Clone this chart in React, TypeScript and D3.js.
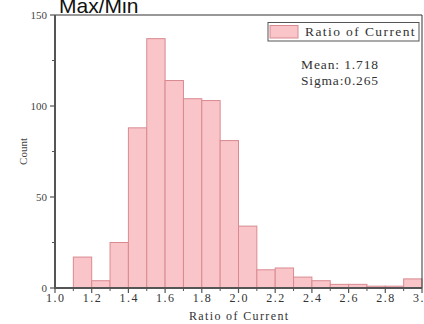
import React from "react";
import * as d3 from "d3";

const binStarts = [1.0, 1.1, 1.2, 1.3, 1.4, 1.5, 1.6, 1.7, 1.8, 1.9, 2.0, 2.1, 2.2, 2.3, 2.4, 2.5, 2.6, 2.7, 2.8, 2.9];
const counts = [0, 17, 4, 25, 88, 137, 114, 104, 103, 81, 34, 10, 11, 6, 4, 2, 2, 1, 1, 5];
const binWidth = 0.1;
const xTicks = [1.0, 1.2, 1.4, 1.6, 1.8, 2.0, 2.2, 2.4, 2.6, 2.8, 3.0];
const xMinorTicks = [1.1, 1.3, 1.5, 1.7, 1.9, 2.1, 2.3, 2.5, 2.7, 2.9];
const yTicks = [0, 50, 100, 150];
const yMinorTicks = [25, 75, 125];
const stats = ["Mean: 1.718", "Sigma:0.265"];

const W = 424;
const H = 324;
const left = 55;
const right = 422;
const top = 15;
const bottom = 288;

const fill = "#f9c5c8";
const stroke = "#d98a91";
const axisColor = "#555";
const serif = "'Liberation Serif', serif";

// fixed-pitch text set in a serif face, each glyph given an equal advance
const pitch = (s: string, w: number) => s.length * w;

export default function App() {
  const x = d3.scaleLinear().domain([1.0, 3.0]).range([left, right]);
  const y = d3.scaleLinear().domain([0, 150]).range([bottom, top]);

  return (
    <svg
      width={W}
      height={H}
      style={{ position: "absolute", left: 0, top: 0, background: "#fff" }}
    >
      {/* histogram bars */}
      {binStarts.map((b, i) =>
        counts[i] > 0 ? (
          <rect
            key={i}
            x={x(b)}
            y={y(counts[i])}
            width={x(b + binWidth) - x(b)}
            height={y(0) - y(counts[i])}
            fill={fill}
            stroke={stroke}
            strokeWidth={1}
          />
        ) : null
      )}

      {/* frame */}
      <line x1={left} x2={right} y1={top} y2={top} stroke="#333" strokeWidth={1} />
      <line x1={right} x2={right} y1={top} y2={bottom} stroke="#333" strokeWidth={1} />
      <line x1={left} x2={left} y1={top} y2={bottom + 1} stroke={axisColor} strokeWidth={2} />
      <line x1={left - 1} x2={right} y1={bottom} y2={bottom} stroke={axisColor} strokeWidth={2} />

      {/* x ticks */}
      {xTicks.map((t) => (
        <g key={t}>
          <line x1={x(t)} x2={x(t)} y1={bottom} y2={bottom + 5} stroke={axisColor} strokeWidth={1.2} />
          <text
            x={x(t) - 9}
            y={bottom + 14}
            fontFamily={serif}
            fontSize={12}
            textLength={pitch(t.toFixed(1), 6)}
            lengthAdjust="spacing"
            fill="#333"
          >
            {t.toFixed(1)}
          </text>
        </g>
      ))}
      {xMinorTicks.map((t) => (
        <line key={t} x1={x(t)} x2={x(t)} y1={bottom} y2={bottom + 3} stroke={axisColor} strokeWidth={1} />
      ))}

      {/* y ticks */}
      {yTicks.map((t) => (
        <g key={t}>
          <line x1={left - 5} x2={left} y1={y(t)} y2={y(t)} stroke={axisColor} strokeWidth={1.2} />
          <text
            x={left - 8}
            y={y(t) + 4}
            textAnchor="end"
            fontFamily={serif}
            fontSize={11}
            fill="#444"
          >
            {t}
          </text>
        </g>
      ))}
      {yMinorTicks.map((t) => (
        <line key={t} x1={left - 3} x2={left} y1={y(t)} y2={y(t)} stroke={axisColor} strokeWidth={1} />
      ))}

      {/* axis titles */}
      <text
        x={(left + right) / 2 - pitch("Ratio of Current", 6.2) / 2}
        y={320}
        fontFamily={serif}
        fontSize={12}
        textLength={pitch("Ratio of Current", 6.2)}
        lengthAdjust="spacing"
        fill="#333"
      >
        Ratio of Current
      </text>
      <text
        transform={`translate(27,${(top + bottom) / 2}) rotate(-90)`}
        textAnchor="middle"
        fontFamily={serif}
        fontSize={11}
        fill="#444"
      >
        Count
      </text>

      {/* chart title */}
      <text x={59} y={13} fontFamily="'Liberation Sans', Arial, sans-serif" fontSize={21} fill="#111">
        Max/Min
      </text>

      {/* legend */}
      <rect x={268} y={22.5} width={151} height={18.5} fill="#fff" stroke="#555" strokeWidth={1} />
      <rect x={270} y={25.5} width={28} height={12.5} fill={fill} stroke={stroke} strokeWidth={1} />
      <text
        x={305}
        y={36}
        fontFamily={serif}
        fontSize={13.5}
        textLength={pitch("Ratio of Current", 6.85)}
        lengthAdjust="spacing"
        fill="#333"
      >
        Ratio of Current
      </text>

      {/* summary statistics */}
      {stats.map((s, i) => (
        <text
          key={s}
          x={301}
          y={69 + i * 16}
          fontFamily={serif}
          fontSize={13.5}
          textLength={pitch(s, 7)}
          lengthAdjust="spacing"
          fill="#333"
        >
          {s}
        </text>
      ))}
    </svg>
  );
}
